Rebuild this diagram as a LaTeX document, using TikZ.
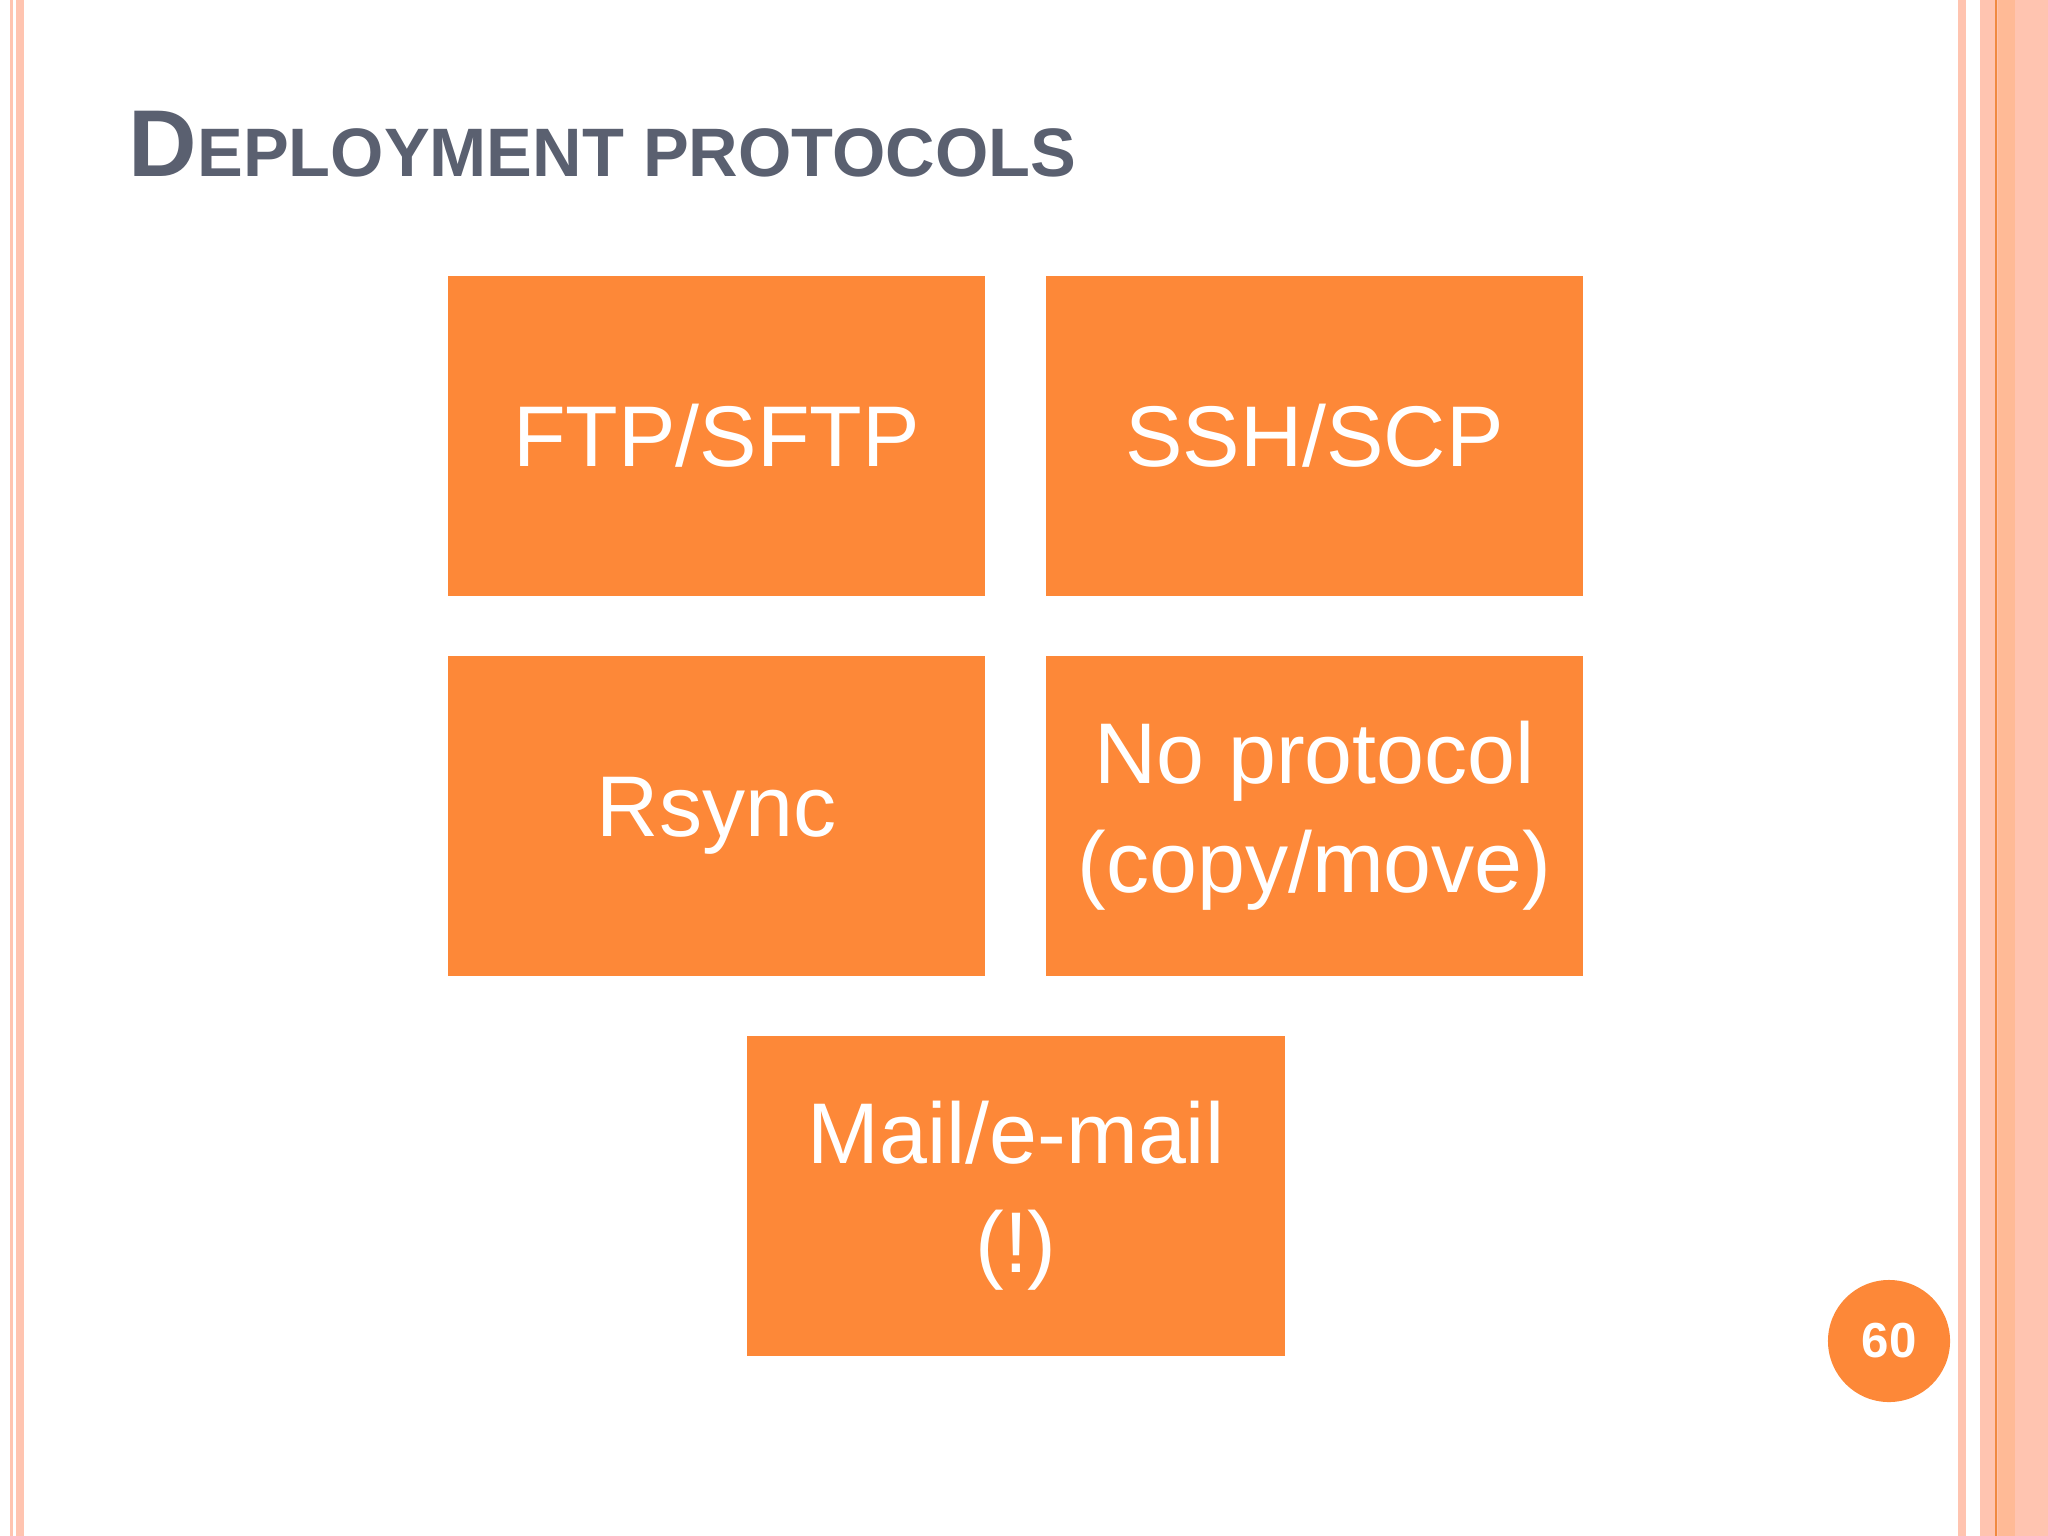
\documentclass[tikz,border=0pt]{standalone}
\usepackage{fontspec}
\setmainfont{Liberation Sans}
\definecolor{boxor}{HTML}{FD8838}
\definecolor{salmon}{HTML}{FFC4B0}
\definecolor{darkor}{HTML}{F08A40}
\definecolor{titlegray}{HTML}{5A6070}
\begin{document}
\begin{tikzpicture}[x=0.01cm,y=-0.01cm,
  pbox/.style={fill=boxor,draw=none,text=white,align=center,font=\fontsize{24.5}{31}\selectfont}]
\useasboundingbox (0,0) rectangle (2048,1536);
\fill[white] (0,0) rectangle (2048,1536);
% left stripes
\fill[salmon] (10,0) rectangle (13,1536);
\fill[salmon] (16,0) rectangle (24,1536);
% right stripes
\fill[salmon] (1958,0) rectangle (1966,1536);
\fill[salmon] (1980,0) rectangle (2048,1536);
\fill[salmon!85!orange] (1998,0) rectangle (2015,1536);
\fill[darkor] (1995,0) rectangle (1997,1536);
% title
\node[anchor=base west,text=titlegray,inner sep=0] (title) at (128,176)
 {\bfseries\fontsize{27}{30}\selectfont D\fontsize{19.5}{24}\selectfont EPLOYMENT PROTOCOLS};
% boxes
\path[pbox] (448,276) rectangle node (b1) {FTP/SFTP} (985,596);
\path[pbox] (1046,276) rectangle node (b2) {SSH/SCP} (1583,596);
\path[pbox] (448,656) rectangle node (b3) {Rsync} (985,976);
\path[pbox] (1046,656) rectangle node (b4) {No protocol\\(copy/move)} (1583,976);
\path[pbox] (747,1036) rectangle node (b5) {Mail/e-mail\\(!)} (1285,1356);
% page number
\node[circle,fill=boxor,minimum size=1.22cm,inner sep=0,text=white,font=\bfseries\fontsize{14}{16}\selectfont] (pg) at (1889,1341) {60};
\end{tikzpicture}
\end{document}
